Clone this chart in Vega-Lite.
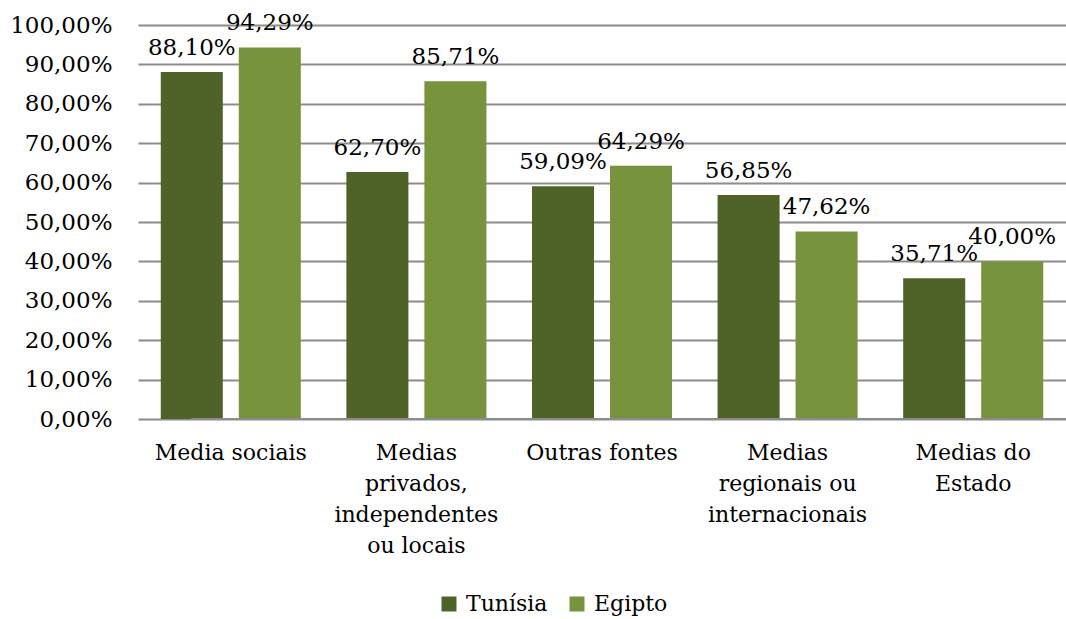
{
  "$schema": "https://vega.github.io/schema/vega-lite/v6.json",
  "autosize": "none",
  "width": 928,
  "height": 394,
  "padding": {"left": 138, "top": 25, "right": 0, "bottom": 200},
  "background": "white",
  "config": {
    "view": {"stroke": null},
    "font": "DejaVu Serif",
    "locale": {"number": {"decimal": ",", "thousands": ".", "grouping": [3], "currency": ["", " €"]}}
  },
  "data": {
    "values": [
      {"categoria": "Media sociais", "pais": "Tunísia", "valor": 0.8810},
      {"categoria": "Media sociais", "pais": "Egipto", "valor": 0.9429},
      {"categoria": "Medias|privados,|independentes|ou  locais", "pais": "Tunísia", "valor": 0.6270},
      {"categoria": "Medias|privados,|independentes|ou  locais", "pais": "Egipto", "valor": 0.8571},
      {"categoria": "Outras fontes", "pais": "Tunísia", "valor": 0.5909},
      {"categoria": "Outras fontes", "pais": "Egipto", "valor": 0.6429},
      {"categoria": "Medias|regionais ou|internacionais", "pais": "Tunísia", "valor": 0.5685},
      {"categoria": "Medias|regionais ou|internacionais", "pais": "Egipto", "valor": 0.4762},
      {"categoria": "Medias do|Estado", "pais": "Tunísia", "valor": 0.3571},
      {"categoria": "Medias do|Estado", "pais": "Egipto", "valor": 0.4000}
    ]
  },
  "encoding": {
    "x": {
      "field": "categoria",
      "type": "nominal",
      "sort": ["Media sociais", "Medias|privados,|independentes|ou  locais", "Outras fontes", "Medias|regionais ou|internacionais", "Medias do|Estado"],
      "scale": {"paddingInner": 0, "paddingOuter": 0},
      "axis": {
        "title": null,
        "labelAngle": 0,
        "labelExpr": "split(datum.label, '|')",
        "labelFont": "DejaVu Serif",
        "labelFontSize": 22,
        "labelColor": "#000000",
        "labelLineHeight": 31,
        "labelBaseline": "top",
        "labelPadding": 23,
        "labelLimit": 300,
        "ticks": false,
        "domain": false,
        "grid": false
      }
    },
    "xOffset": {
      "field": "pais",
      "type": "nominal",
      "sort": ["Tunísia", "Egipto"],
      "scale": {"paddingInner": 0.205, "paddingOuter": 0.292}
    },
    "y": {
      "field": "valor",
      "type": "quantitative",
      "scale": {"domain": [0, 1], "nice": false},
      "axis": {
        "title": null,
        "values": [0, 0.1, 0.2, 0.3, 0.4, 0.5, 0.6, 0.7, 0.8, 0.9, 1.0],
        "format": ".2%",
        "labelFont": "DejaVu Serif",
        "labelFontSize": 23,
        "labelColor": "#000000",
        "labelPadding": 26,
        "ticks": false,
        "domain": false,
        "grid": true,
        "gridColor": "#8c8c8c",
        "gridWidth": 2
      }
    }
  },
  "layer": [
    {
      "mark": {"type": "bar"},
      "encoding": {
        "color": {
          "field": "pais",
          "type": "nominal",
          "sort": ["Tunísia", "Egipto"],
          "scale": {"domain": ["Tunísia", "Egipto"], "range": ["#4f6228", "#77933c"]},
          "legend": {
            "title": null,
            "orient": "none",
            "direction": "horizontal",
            "legendX": 300,
            "legendY": 568,
            "symbolType": "square",
            "symbolSize": 225,
            "symbolStrokeWidth": 0,
            "labelFont": "DejaVu Serif",
            "labelFontSize": 22,
            "labelColor": "#000000",
            "labelOffset": 6,
            "columnPadding": 18
          }
        }
      }
    },
    {
      "mark": {"type": "text", "baseline": "alphabetic", "dy": -17, "font": "DejaVu Serif", "fontSize": 23, "color": "#000000"},
      "encoding": {
        "text": {"field": "valor", "type": "quantitative", "format": ".2%"}
      }
    },
    {
      "mark": {"type": "rule", "color": "#8c8c8c", "strokeWidth": 2},
      "encoding": {
        "y": {"datum": 0},
        "x": {"value": 0},
        "x2": {"value": 928}
      }
    }
  ]
}
